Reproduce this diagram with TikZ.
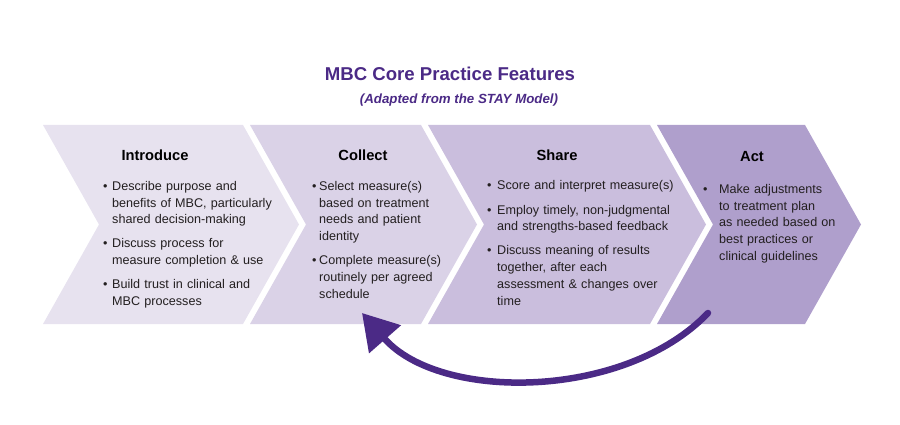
\documentclass[tikz,border=0pt]{standalone}
\usepackage{fontspec}
\setmainfont{Liberation Sans}
\usetikzlibrary{arrows.meta}
\definecolor{mbcpurple}{HTML}{4B2A86}
\definecolor{txtgray}{HTML}{231F20}
\definecolor{chevA}{HTML}{E7E2EF}
\definecolor{chevB}{HTML}{DAD2E7}
\definecolor{chevC}{HTML}{CABEDD}
\definecolor{chevD}{HTML}{AF9FCC}
\newcommand{\bpt}[2]{\par\hangindent=#1\hangafter=1\noindent\makebox[#1][l]{\textbullet}#2\par}
\newcommand{\grpgap}{\vspace{7.5pt}}
\tikzset{
  heading/.style={font=\bfseries\fontsize{14.7}{17}\selectfont, text=black, inner sep=0pt, anchor=center},
  body/.style={anchor=north west, inner sep=0pt, text width=#1, align=left,
    font=\fontsize{12.6}{16.7}\selectfont, text=txtgray},
  loop arrow/.style={draw=mbcpurple, line width=6.5pt, line cap=round,
    -{Triangle[length=35pt,width=41pt]}},
}
\begin{document}
\begin{tikzpicture}[x=1pt,y=-1pt]
\useasboundingbox (0,0) rectangle (900,425);
% chevrons
\fill[chevA] (43,125) -- (243,125) -- (299,224.5) -- (243,324) -- (43,324) -- (99,224.5) -- cycle;
\fill[chevB] (250,125) -- (421,125) -- (477,224.5) -- (421,324) -- (250,324) -- (306,224.5) -- cycle;
\fill[chevC] (428,125) -- (650,125) -- (706,224.5) -- (650,324) -- (428,324) -- (484,224.5) -- cycle;
\fill[chevD] (657,125) -- (805,125) -- (861,224.5) -- (805,324) -- (657,324) -- (713,224.5) -- cycle;
% title
\node[font=\bfseries\fontsize{18.6}{22}\selectfont, text=mbcpurple, inner sep=0pt] (title) at (450,74) {MBC Core Practice Features};
\node[font=\bfseries\itshape\fontsize{13.3}{16}\selectfont, text=mbcpurple, inner sep=0pt] (subtitle) at (459,100) {(Adapted from the STAY Model)};
% headings
\node[heading] (h1) at (155,155) {Introduce};
\node[heading] (h2) at (363,155) {Collect};
\node[heading] (h3) at (557,155) {Share};
\node[heading] (h4) at (752,157) {Act};
% bodies
\node[body=190pt] (b1) at (103,173.5) {%
\bpt{9pt}{Describe purpose and\newline benefits of MBC, particularly\newline shared decision-making}\grpgap
\bpt{9pt}{Discuss process for\newline measure completion \& use}\grpgap
\bpt{9pt}{Build trust in clinical and\newline MBC processes}};
\node[body=150pt] (b2) at (312,173.5) {%
\bpt{7pt}{Select measure(s)\newline based on treatment\newline needs and patient\newline identity}\grpgap
\bpt{7pt}{Complete measure(s)\newline routinely per agreed\newline schedule}};
\node[body=220pt] (b3) at (487,173) {%
\bpt{10pt}{Score and interpret measure(s)}\grpgap
\bpt{10pt}{Employ timely, non-judgmental\newline and strengths-based feedback}\grpgap
\bpt{10pt}{Discuss meaning of results\newline together, after each\newline assessment \& changes over\newline time}};
\node[body=150pt] (b4) at (703,176.5) {%
\bpt{16pt}{Make adjustments\newline to treatment plan\newline as needed based on\newline best practices or\newline clinical guidelines}};
% feedback arrow
\coordinate (arrowstart) at (708,313);
\coordinate (arrowend) at (362,313);
\draw[loop arrow] (arrowstart) .. controls (625,400) and (440,402) .. (arrowend);
\end{tikzpicture}
\end{document}
